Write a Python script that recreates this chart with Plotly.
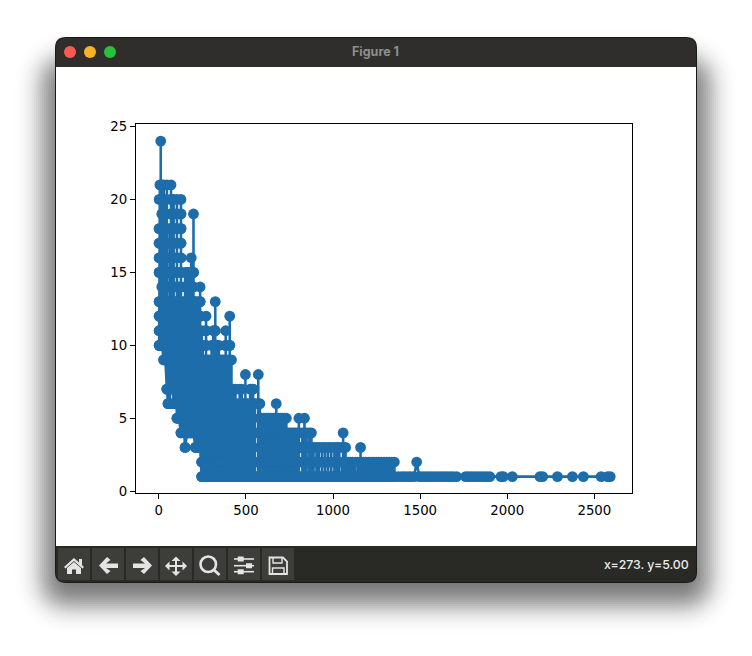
import math

import plotly.graph_objects as go

W, H = 752, 656

# stems: x position and the y levels sitting on that stem
col_x = [2, 6, 11, 18, 28, 38, 46, 53, 62, 70, 78, 85, 97, 104, 115, 127, 139, 151, 162, 174, 186, 199,
         210, 222, 237, 246, 252, 263, 271, 282, 293, 303, 312, 324, 334, 345, 355, 366, 376, 384, 396, 407, 417,
         428, 440, 452, 464, 476, 488, 497, 512, 524, 536, 541, 552, 571, 580, 592, 604, 616, 628, 640, 650, 662,
         674, 686, 698, 708, 720, 732, 744, 756, 768, 780, 792, 804, 824, 836, 848, 864, 876, 888, 905, 920,
         938, 955, 972, 990, 1008, 1022, 1036, 1053, 1058, 1072, 1086, 1097, 1112, 1127, 1143, 1158, 1173,
         1188, 1203, 1218, 1233, 1248, 1263, 1278, 1293, 1308, 1323, 1338, 1352]
col_y = [[20, 18, 17, 16, 15, 13, 12, 11, 10], [21, 16, 12, 10], [24, 20, 17, 13, 12, 10],
         [21, 20, 19, 18, 17, 16, 15, 14, 12, 10], [21, 19, 15, 13, 11, 9], [20, 19, 18, 17, 16, 15, 14, 12, 10, 9],
         [21, 15, 13, 11, 9, 7], [13, 11, 9, 7, 6], [18, 17, 16, 15, 14, 12, 9, 7, 6],
         [21, 20, 19, 18, 17, 16, 15, 13, 11, 9, 8], [14, 12, 10, 8], [20, 19, 18, 17, 16, 15, 14, 12, 10, 9, 6],
         [13, 11, 9, 8], [20, 19, 18, 17, 16, 15, 14, 13, 11, 8, 5], [14, 12, 10, 8, 5],
         [20, 19, 18, 17, 16, 15, 14, 12, 9, 6, 4], [13, 11, 9, 7, 5], [15, 14, 13, 11, 9, 6, 3],
         [15, 14, 13, 12, 10, 8, 5, 4], [15, 14, 13, 10, 7, 5, 4], [16, 15, 14, 13, 12, 9, 6, 4],
         [19, 15, 14, 13, 10, 7, 4],
         [13, 11, 8, 5, 3], [13, 11, 9, 6, 3], [14, 13, 12, 9, 6, 3], [11, 9, 6, 2, 1], [10, 7, 4, 2],
         [9, 8, 5, 2, 1], [12, 11, 10, 7, 4, 2], [9, 7, 5, 3, 2, 1], [9, 7, 4, 2], [10, 8, 5, 3, 2, 1],
         [11, 10, 9, 6, 3, 2], [13, 11, 10, 8, 5, 2, 1], [10, 7, 4, 2], [10, 8, 5, 2, 1], [9, 6, 3, 2],
         [9, 8, 4, 2, 1], [9, 7, 4, 2, 1], [11, 10, 8, 5, 2, 1], [9, 6, 3, 1], [12, 10, 7, 4, 2, 1],
         [9, 7, 5, 2, 1],
         [7, 5, 3, 1], [7, 5, 3, 1], [6, 4, 2, 1], [7, 5, 3, 1], [7, 5, 3, 1], [6, 4, 2, 1], [8, 6, 4, 2, 1],
         [6, 4, 2, 1], [7, 5, 3, 1], [7, 5, 3, 1], [7, 6, 4, 2, 1], [6, 4, 2, 1], [8, 6, 4, 2, 1],
         [6, 5, 3, 2, 1], [5, 4, 3, 2, 1], [5, 4, 3, 2, 1], [5, 4, 3, 2, 1], [5, 4, 3, 2, 1], [5, 4, 3, 2, 1],
         [5, 4, 3, 2, 1], [5, 4, 3, 2, 1], [6, 5, 4, 3, 2, 1], [5, 4, 3, 2, 1], [5, 4, 3, 2, 1], [5, 4, 3, 2, 1],
         [5, 4, 3, 2, 1], [5, 4, 3, 2, 1], [4, 3, 2, 1], [4, 3, 2, 1], [4, 3, 2, 1], [4, 3, 2, 1],
         [4, 3, 2, 1], [5, 4, 3, 2, 1], [4, 3, 2, 1], [5, 4, 3, 2, 1], [4, 3, 2, 1], [4, 3, 2, 1],
         [4, 3, 2, 1], [3, 2, 1], [3, 2, 1], [3, 2, 1], [3, 2, 1], [3, 2, 1], [3, 2, 1], [3, 2, 1],
         [3, 2, 1], [3, 2, 1], [3, 2, 1], [2, 1], [4, 3, 2, 1], [3, 2, 1], [2, 1], [2, 1], [2, 1], [2, 1],
         [2, 1], [3, 2, 1], [2, 1], [2, 1], [2, 1], [2, 1], [2, 1], [2, 1], [2, 1], [2, 1], [2, 1], [2, 1],
         [2, 1], [2, 1], [2, 1], [2, 1]]
# the long flat tail, plus the lone y=2 point near 1480
tail_x = [1375, 1395, 1412, 1430, 1447, 1465, 1480, 1495, 1512, 1530, 1548, 1565, 1582, 1600, 1618, 1635, 1652,
          1670, 1688, 1709, 1761, 1778, 1795, 1812, 1830, 1848, 1865, 1882, 1900, 1964, 1977, 2029, 2188, 2203,
          2288, 2374, 2437, 2539, 2576, 2591]
tail_y = [1, 1, 1, 1, 1, 1, 2, 1, 1, 1, 1, 1, 1, 1, 1, 1, 1, 1, 1, 1, 1, 1, 1, 1, 1, 1, 1, 1, 1, 1, 1, 1, 1, 1,
          1, 1, 1, 1, 1, 1]
x_ticks = [0, 500, 1000, 1500, 2000, 2500]
y_ticks = [0, 5, 10, 15, 20, 25]

BLUE = "#1e6dab"
ICON = "#e4e4e2"


def px(x):
    return x / W


def py(y):
    return 1 - y / H


def path_of(points, close=True):
    d = "M" + " L".join(f"{px(a):.5f},{py(b):.5f}" for a, b in points)
    return d + (" Z" if close else "")


def rounded(x0, y0, x1, y1, r, bottom=True, top=True):
    rt = r if top else 0
    rb = r if bottom else 0
    return (f"M{px(x0 + rt):.5f},{py(y0):.5f} L{px(x1 - rt):.5f},{py(y0):.5f} "
            f"Q{px(x1):.5f},{py(y0):.5f} {px(x1):.5f},{py(y0 + rt):.5f} "
            f"L{px(x1):.5f},{py(y1 - rb):.5f} Q{px(x1):.5f},{py(y1):.5f} {px(x1 - rb):.5f},{py(y1):.5f} "
            f"L{px(x0 + rb):.5f},{py(y1):.5f} Q{px(x0):.5f},{py(y1):.5f} {px(x0):.5f},{py(y1 - rb):.5f} "
            f"L{px(x0):.5f},{py(y0 + rt):.5f} Q{px(x0):.5f},{py(y0):.5f} {px(x0 + rt):.5f},{py(y0):.5f} Z")


shapes = []


def add_fill(d, color, opacity=1):
    shapes.append(dict(type="path", path=d, xref="paper", yref="paper", fillcolor=color, opacity=opacity,
                       line=dict(width=0), layer="below"))


def add_stroke(d, color=ICON, width=2):
    shapes.append(dict(type="path", path=d, xref="paper", yref="paper", line=dict(color=color, width=width),
                       layer="below"))


def add_dot(cx, cy, r, color):
    shapes.append(dict(type="circle", xref="paper", yref="paper", x0=px(cx - r), x1=px(cx + r), y0=py(cy - r),
                       y1=py(cy + r), fillcolor=color, line=dict(width=0), layer="below"))


# window shadow, bell shaped falloff built from stacked translucent rects
for grow in range(36, -32, -2):
    add_fill(rounded(46 - grow, 62 - grow, 706 + grow, 602 + grow, max(6, 30 + grow)), "#000000",
             0.045 * math.exp(-0.5 * (grow / 13) ** 2))

# window body
add_fill(rounded(55, 37, 697, 583, 11), "#1a1a18")
add_fill(rounded(56, 38, 696, 582, 10), "#2f2e2c")
add_fill(rounded(56, 546, 696, 582, 10, top=False), "#292926")
add_fill(rounded(56, 67, 696, 546, 0), "#ffffff")
add_dot(70, 52, 6, "#fb5a52")
add_dot(90, 52, 6, "#f9b226")
add_dot(110, 52, 6, "#27c13a")

# toolbar buttons
for left in [58, 92, 126, 160, 194, 228, 262]:
    add_fill(rounded(left, 548, left + 32, 580, 0), "#3d3d3a")

# home
add_fill(path_of([(64, 567), (74, 558), (79, 562.5), (79, 559), (82, 559), (82, 565), (84, 567), (82.5, 568.5),
                  (74, 561), (65.5, 568.5)]), ICON)
add_fill(path_of([(67, 568), (74, 562), (81, 568), (81, 574), (76, 574), (76, 569.5), (72, 569.5), (72, 574),
                  (67, 574)]), ICON)
# back and forward
back = [(99, 565.5), (107, 557), (110.5, 560), (106, 563.5), (118, 563.5), (118, 568), (106, 568), (110.5, 571),
        (107, 574)]
add_fill(path_of(back), ICON)
add_fill(path_of([(251 - a, b) for a, b in back]), ICON)
# move
add_stroke(path_of([(167, 566), (185, 566)], close=False))
add_stroke(path_of([(176, 558), (176, 575)], close=False))
add_fill(path_of([(165, 566), (169.5, 561.5), (169.5, 570.5)]), ICON)
add_fill(path_of([(187, 566), (182.5, 561.5), (182.5, 570.5)]), ICON)
add_fill(path_of([(176, 556.5), (171.5, 561), (180.5, 561)]), ICON)
add_fill(path_of([(176, 576), (171.5, 571.5), (180.5, 571.5)]), ICON)
# zoom
shapes.append(dict(type="circle", xref="paper", yref="paper", x0=px(200.5), x1=px(216), y0=py(556.5), y1=py(572),
                   line=dict(color=ICON, width=2.6), layer="below"))
add_stroke(path_of([(213.5, 569.5), (219.5, 575)], close=False), width=3)
# sliders
for level, knob in [(559, 240.7), (565.7, 249), (571.7, 240.7)]:
    add_stroke(path_of([(234, level), (254, level)], close=False), width=1.6)
    add_fill(rounded(knob - 3, level - 2.5, knob + 3, level + 2.5, 0), ICON)
# save
add_stroke(path_of([(269.5, 557.5), (283, 557.5), (287, 561.5), (287, 574), (269.5, 574)]), width=1.8)
add_stroke(path_of([(273, 558), (273, 563), (282, 563), (282, 558)], close=False), width=1.4)
add_stroke(path_of([(272.5, 574), (272.5, 568), (284, 568), (284, 574)], close=False), width=1.4)

# each stem runs up to its top level and back down again
line_x, line_y = [], []
for x, levels in zip(col_x, col_y):
    stem = levels[::-1] + levels[1:]
    line_x += [x] * len(stem)
    line_y += stem
line_x += tail_x
line_y += tail_y

fig = go.Figure()
fig.add_trace(go.Scatter(x=line_x, y=line_y, mode="lines+markers", line=dict(color=BLUE, width=2.6),
                         marker=dict(color=BLUE, size=10.8, line=dict(width=0)), hoverinfo="skip",
                         showlegend=False))

axis_style = dict(showgrid=False, zeroline=False, showline=True, mirror=True, linecolor="#000000", linewidth=1.1,
                  ticks="outside", ticklen=5, tickwidth=1.1, tickcolor="#000000", automargin=False,
                  tickfont=dict(family="DejaVu Sans", size=13.3, color="#000000"))
fig.update_layout(
    width=W, height=H, margin=dict(l=0, r=0, t=0, b=0, pad=0, autoexpand=False), paper_bgcolor="#ffffff",
    plot_bgcolor="rgba(0,0,0,0)", shapes=shapes, showlegend=False, hovermode=False,
    xaxis=dict(domain=[px(136), px(632)], range=[-131, 2716], tickvals=x_ticks, **axis_style),
    yaxis=dict(domain=[py(493.4), py(124.3)], range=[-0.15, 25.15], tickvals=y_ticks, **axis_style),
    annotations=[
        dict(text="Figure 1", xref="paper", yref="paper", x=px(375.5), y=py(52), showarrow=False,
             xanchor="center", yanchor="middle", font=dict(family="Inter", size=12.5, color="#8e8e8c", weight=700)),
        dict(text="x=273. y=5.00", xref="paper", yref="paper", x=px(690.5), y=py(564), showarrow=False,
             xanchor="right", yanchor="middle", font=dict(family="Inter", size=12.3, color="#ececea", weight=500)),
    ],
)

fig.write_html("out.html", config={"displayModeBar": False},
               post_script="document.body.style.margin='0';document.body.style.overflow='hidden';")
